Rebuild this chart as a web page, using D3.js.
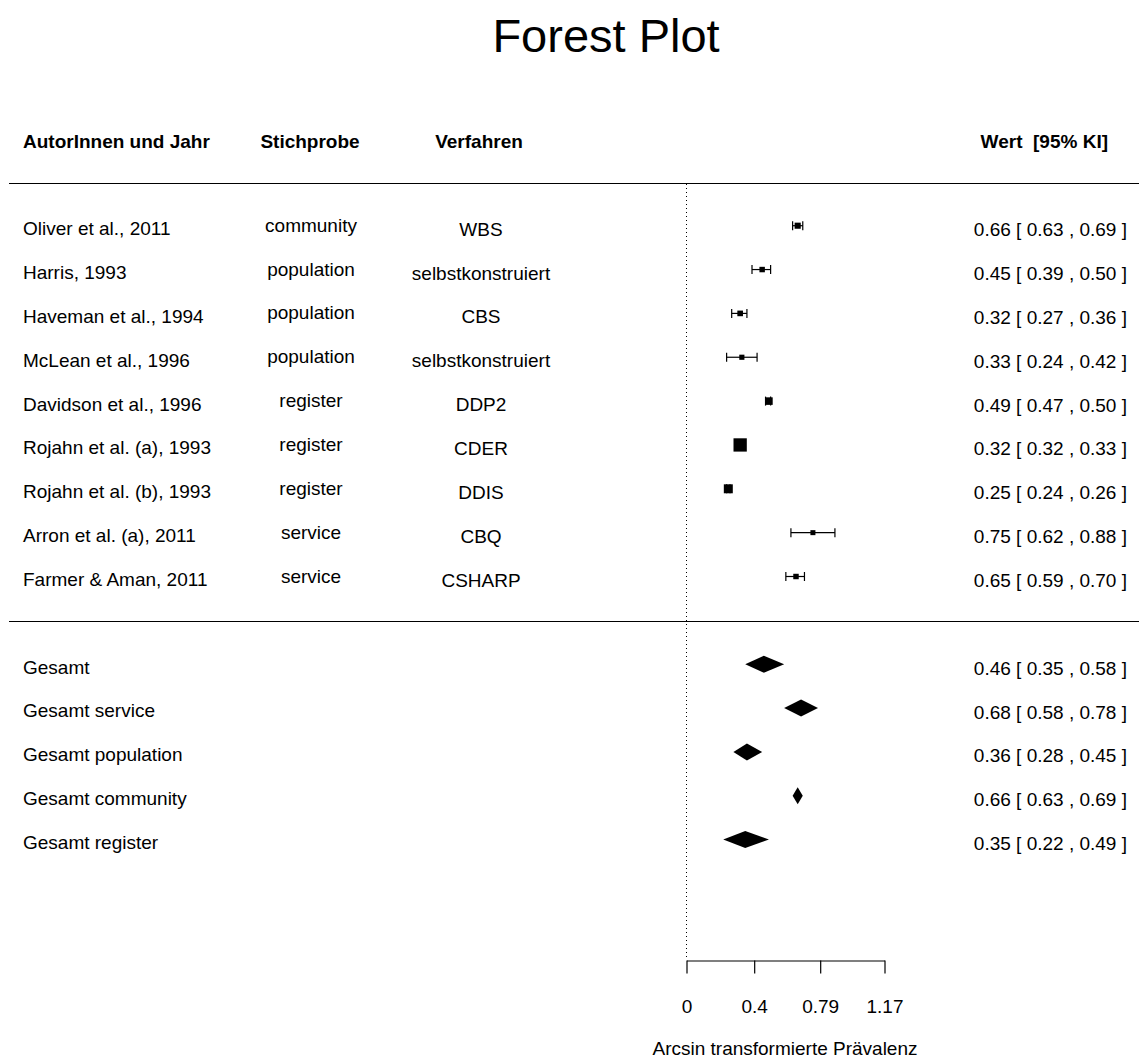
<!DOCTYPE html>
<html><head><meta charset="utf-8">
<script src="https://cdn.jsdelivr.net/npm/d3@7"></script>
<style>
body{margin:0;background:#fff}
text{font-family:"Liberation Sans",Arial,Helvetica,sans-serif;fill:#000}
</style>
</head><body>
<svg id="chart" width="1139" height="1059"></svg>
<script>
// ---------------- data ----------------
const title = "Forest Plot";
const headers = ["AutorInnen und Jahr", "Stichprobe", "Verfahren", "Wert  [95% KI]"];
const authors = ["Oliver et al., 2011", "Harris, 1993", "Haveman et al., 1994", "McLean et al., 1996",
  "Davidson et al., 1996", "Rojahn et al. (a), 1993", "Rojahn et al. (b), 1993",
  "Arron et al. (a), 2011", "Farmer & Aman, 2011"];
const samples = ["community", "population", "population", "population", "register", "register", "register", "service", "service"];
const methods = ["WBS", "selbstkonstruiert", "CBS", "selbstkonstruiert", "DDP2", "CDER", "DDIS", "CBQ", "CSHARP"];
const estimates = [0.66, 0.45, 0.32, 0.33, 0.49, 0.32, 0.25, 0.75, 0.65];
const lowerCI   = [0.63, 0.39, 0.27, 0.24, 0.47, 0.32, 0.24, 0.62, 0.59];
const upperCI   = [0.69, 0.50, 0.36, 0.42, 0.50, 0.33, 0.26, 0.88, 0.70];
const summaryLabels = ["Gesamt", "Gesamt service", "Gesamt population", "Gesamt community", "Gesamt register"];
const summaryEst   = [0.46, 0.68, 0.36, 0.66, 0.35];
const summaryLower = [0.35, 0.58, 0.28, 0.63, 0.22];
const summaryUpper = [0.58, 0.78, 0.45, 0.69, 0.49];
const xTicks = [0, 0.4, 0.79, 1.17];
const xTickLabels = ["0", "0.4", "0.79", "1.17"];
const xTitle = "Arcsin transformierte Prävalenz";

// ---------------- layout ----------------
const W = 1139, H = 1059;
const FS = 19;
const svg = d3.select("#chart");
const x = d3.scaleLinear().domain([0, 1.17]).range([686, 884]);
const y = d3.scaleLinear().domain([0, 14]).range([225.7, 839.6]);
const axisY = 960;
const fmt = d3.format(".2f");

const studies = authors.map((a, i) => ({
  author: a, sample: samples[i], method: methods[i],
  est: estimates[i], lb: lowerCI[i], ub: upperCI[i], row: i
}));
const summaries = summaryLabels.map((l, i) => ({
  label: l, est: summaryEst[i], lb: summaryLower[i], ub: summaryUpper[i], row: 10 + i
}));

// precision (1/SE) derived from the CI -> square size
const precision = studies.map(d => 3.92 / (d.ub - d.lb));
const sizeScale = d3.scaleLinear().domain(d3.extent(precision)).range([5, 13.3]);

// title
svg.append("text").attr("x", 606).attr("y", 52).attr("text-anchor", "middle")
  .attr("font-size", 47).text(title);

// headers
const hy = 148;
svg.append("text").attr("x", 23).attr("y", hy).attr("font-weight", "bold").attr("font-size", FS).text(headers[0]);
svg.append("text").attr("x", 310).attr("y", hy).attr("text-anchor", "middle").attr("font-weight", "bold").attr("font-size", FS).text(headers[1]);
svg.append("text").attr("x", 479).attr("y", hy).attr("text-anchor", "middle").attr("font-weight", "bold").attr("font-size", FS).text(headers[2]);
svg.append("text").attr("x", 1108).attr("y", hy).attr("text-anchor", "end").attr("font-weight", "bold")
  .attr("font-size", FS).style("white-space", "pre").text(headers[3]);

// horizontal rules
[183, 621].forEach(yy => {
  svg.append("line").attr("x1", 9).attr("x2", W).attr("y1", yy + 0.5).attr("y2", yy + 0.5)
    .attr("stroke", "#000").attr("stroke-width", 1.2);
});

// dotted reference line at 0
svg.append("line").attr("x1", x(0) + 0.5).attr("x2", x(0) + 0.5).attr("y1", 184).attr("y2", axisY)
  .attr("stroke", "#000").attr("stroke-width", 1).attr("stroke-dasharray", "1,3");

// study text columns
const st = svg.append("g");
st.selectAll(".au").data(studies).join("text").attr("x", 23).attr("y", d => y(d.row) + 9.5)
  .attr("font-size", FS).text(d => d.author);
st.selectAll(".sa").data(studies).join("text").attr("x", 311).attr("y", d => y(d.row) + 6)
  .attr("text-anchor", "middle").attr("font-size", FS).text(d => d.sample);
st.selectAll(".me").data(studies).join("text").attr("x", 481).attr("y", d => y(d.row) + 10)
  .attr("text-anchor", "middle").attr("font-size", FS).text(d => d.method);
st.selectAll(".va").data(studies).join("text").attr("x", 1127).attr("y", d => y(d.row) + 10.5)
  .attr("text-anchor", "end").attr("font-size", FS).style("white-space", "pre")
  .text(d => `${fmt(d.est)} [ ${fmt(d.lb)} , ${fmt(d.ub)} ]`);

// whiskers + caps
const cap = 4.5;
const wg = svg.append("g").attr("stroke", "#000").attr("stroke-width", 1.2);
studies.forEach(d => {
  const yy = y(d.row);
  wg.append("line").attr("x1", x(d.lb)).attr("x2", x(d.ub)).attr("y1", yy).attr("y2", yy);
  wg.append("line").attr("x1", x(d.lb)).attr("x2", x(d.lb)).attr("y1", yy - cap).attr("y2", yy + cap);
  wg.append("line").attr("x1", x(d.ub)).attr("x2", x(d.ub)).attr("y1", yy - cap).attr("y2", yy + cap);
});
// squares
svg.append("g").selectAll("rect").data(studies).join("rect")
  .attr("x", (d, i) => x(d.est) - sizeScale(precision[i]) / 2)
  .attr("y", (d, i) => y(d.row) - sizeScale(precision[i]) / 2)
  .attr("width", (d, i) => sizeScale(precision[i]))
  .attr("height", (d, i) => sizeScale(precision[i]))
  .attr("fill", "#000");

// summary rows
const sg = svg.append("g");
sg.selectAll(".sl").data(summaries).join("text").attr("x", 23).attr("y", d => y(d.row) + 9.3)
  .attr("font-size", FS).text(d => d.label);
sg.selectAll(".sv").data(summaries).join("text").attr("x", 1127).attr("y", d => y(d.row) + 10.5)
  .attr("text-anchor", "end").attr("font-size", FS).style("white-space", "pre")
  .text(d => `${fmt(d.est)} [ ${fmt(d.lb)} , ${fmt(d.ub)} ]`);
const dh = 8.5;
sg.selectAll("path").data(summaries).join("path")
  .attr("d", d => {
    const yy = y(d.row);
    return `M${x(d.lb)},${yy}L${x(d.est)},${yy - dh}L${x(d.ub)},${yy}L${x(d.est)},${yy + dh}Z`;
  })
  .attr("fill", "#000");

// x axis
const ax = svg.append("g").attr("transform", `translate(0.5,${axisY + 0.5})`)
  .call(d3.axisBottom(x).tickValues(xTicks).tickFormat((d, i) => xTickLabels[i])
    .tickSize(13).tickSizeOuter(0).tickPadding(26));
ax.attr("font-family", null).attr("font-size", null);
ax.selectAll("text").attr("font-size", FS).attr("fill", "#000");
ax.selectAll("line,path").attr("stroke", "#000").attr("stroke-width", 1.2);

svg.append("text").attr("x", 785).attr("y", 1055).attr("text-anchor", "middle")
  .attr("font-size", FS).text(xTitle);
</script>
</body></html>
